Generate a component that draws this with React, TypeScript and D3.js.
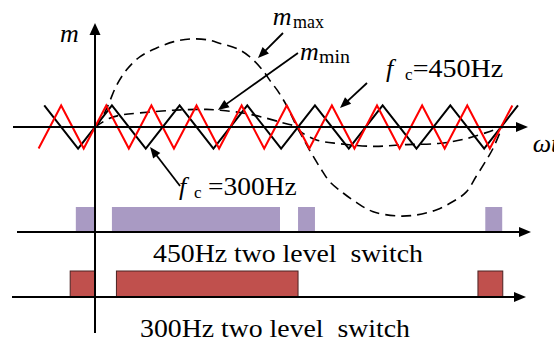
import * as d3 from 'd3';

// carrier vertices, in degrees of ωt
const carrier300Peaks = [-45, 15, 75, 135, 195, 255, 315, 375];
const carrier300Troughs = [-15, 45, 105, 165, 225, 285, 345];
const carrier450Peaks = [-30, 10, 50, 90, 130, 170, 210, 250, 290, 330, 370];
const carrier450Troughs = [-50, -10, 30, 70, 110, 150, 190, 230, 270, 310, 350];
const carrierAmp = 0.245;

// envelopes
const mMaxAngles = [0, 6, 12, 19, 28, 40, 55, 70, 85, 100, 111, 126, 137, 149, 155, 162, 170, 179,
  182, 191, 200, 208, 220, 232, 246, 267, 285, 303, 317, 329, 338, 347, 353, 361];
const mMaxValues = [0, 0.1, 0.26, 0.47, 0.65, 0.8, 0.9, 0.97, 1.0, 0.99, 0.95, 0.89, 0.8, 0.64, 0.53, 0.41, 0.24, 0,
  -0.07, -0.28, -0.47, -0.62, -0.75, -0.86, -0.96, -1.01, -1.0, -0.94, -0.85, -0.74, -0.56, -0.375, -0.24, 0];
const mMinAngles = [0, 13, 25, 40, 69, 99, 111, 131, 152, 167, 179,
  182, 197, 217, 247, 276, 306, 330, 350, 361];
const mMinValues = [0, 0.1, 0.14, 0.16, 0.19, 0.2, 0.19, 0.16, 0.1, 0.045, 0,
  -0.05, -0.15, -0.19, -0.22, -0.2, -0.185, -0.13, -0.05, 0];

// switching intervals [start, end] in degrees
const switch450: [number, number][] = [[-17, 0], [15, 164], [180, 195], [346, 361]];
const switch300: [number, number][] = [[-22, 0], [19, 180], [339.5, 361.5]];

const rows = ['450Hz two level  switch', '300Hz two level  switch'];

const W = 554;
const H = 343;
const serif = "'Times New Roman', 'Liberation Serif', serif";

const x = d3.scaleLinear().domain([0, 360]).range([95, 95 + 360 * 1.128]);
const y = d3.scaleLinear().domain([-1, 1]).range([127 + 88, 127 - 88]);
const rowY = d3.scaleOrdinal<string, number>().domain(rows).range([232, 297]);

const carrier = (peaks: number[], troughs: number[]) =>
  [...peaks.map((d) => [d, carrierAmp] as [number, number]), ...troughs.map((d) => [d, -carrierAmp] as [number, number])]
    .sort((a, b) => a[0] - b[0]);

const lin = d3.line<[number, number]>().x((d) => x(d[0])).y((d) => y(d[1]));
const smooth = d3
  .line<[number, number]>()
  .x((d) => x(d[0]))
  .y((d) => y(d[1]))
  .curve(d3.curveCatmullRom.alpha(0.5));

const zip = (a: number[], b: number[]) => a.map((v, i) => [v, b[i]] as [number, number]);

function head(tx: number, ty: number, angle: number, len: number, half: number) {
  // angle: direction the arrow points, radians
  const bx = tx - len * Math.cos(angle);
  const by = ty - len * Math.sin(angle);
  const px = -Math.sin(angle) * half;
  const py = Math.cos(angle) * half;
  return `M${tx},${ty}L${bx + px},${by + py}L${bx - px},${by - py}Z`;
}

// arrow tips in data coords, tails as pixel offsets
const notes = [
  { deg: 144.5, val: 0.784, dx: 25, dy: -25 },
  { deg: 109, val: 0.193, dx: 80, dy: -57 },
  { deg: 217.2, val: 0.216, dx: 27, dy: -25 },
  { deg: 48.8, val: -0.227, dx: 30, dy: 39 },
];

export default function App() {
  const x0 = x(0);
  const y0 = y(0);
  return (
    <svg width={W} height={H} style={{ position: 'absolute', left: 0, top: 0, background: '#fff' }} fontFamily={serif}>
      {/* switching bars */}
      {switch450.map(([a, b], i) => (
        <rect key={'p' + i} x={x(a)} y={rowY(rows[0]) - 25} width={x(b) - x(a)} height={25} fill="#a99ac3" />
      ))}
      {switch300.map(([a, b], i) => (
        <rect key={'r' + i} x={x(a)} y={rowY(rows[1]) - 26} width={x(b) - x(a)} height={26} fill="#c0504d" stroke="#4a2222" strokeWidth={1} />
      ))}

      {/* row axes */}
      {rows.map((r, i) => {
        const yy = rowY(r);
        const left = i === 0 ? 17 : 12;
        const tip = i === 0 ? 531 : 526;
        return (
          <g key={r}>
            <line x1={left} x2={tip - 8} y1={yy} y2={yy} stroke="#000" strokeWidth={2} />
            <path d={head(tip, yy, 0, 12, 5)} fill="#000" />
          </g>
        );
      })}

      {/* envelopes */}
      <path d={smooth(zip(mMaxAngles, mMaxValues))!} fill="none" stroke="#000" strokeWidth={1.6} strokeDasharray="10 6" />
      <path d={smooth(zip(mMinAngles, mMinValues))!} fill="none" stroke="#000" strokeWidth={1.6} strokeDasharray="10 6" />

      {/* carriers */}
      <path d={lin(carrier(carrier300Peaks, carrier300Troughs))!} fill="none" stroke="#000" strokeWidth={2} />
      <path d={lin(carrier(carrier450Peaks, carrier450Troughs))!} fill="none" stroke="#ff0000" strokeWidth={2} />

      {/* main axes */}
      <line x1={13} x2={518} y1={y0} y2={y0} stroke="#000" strokeWidth={2} />
      <path d={head(528, y0, 0, 12, 5)} fill="#000" />
      <line x1={x0} x2={x0} y1={333} y2={32} stroke="#000" strokeWidth={2} />
      <path d={head(x0, 23, -Math.PI / 2, 12, 5.5)} fill="#000" />

      {/* annotation arrows */}
      {notes.map((n, i) => {
        const tx = x(n.deg);
        const ty = y(n.val);
        const ang = Math.atan2(-n.dy, -n.dx);
        return (
          <g key={i}>
            <line x1={tx + n.dx} y1={ty + n.dy} x2={tx - 8 * Math.cos(ang)} y2={ty - 8 * Math.sin(ang)} stroke="#000" strokeWidth={1.8} />
            <path d={head(tx, ty, ang, 11, 4.5)} fill="#000" />
          </g>
        );
      })}

      {/* labels */}
      <text x={60} y={42} fontSize={26} fontStyle="italic">m</text>
      <text x={272.7} y={25} fontSize={26} fontStyle="italic">m</text>
      <text x={293} y={28} fontSize={18} textLength={31} lengthAdjust="spacingAndGlyphs">max</text>
      <text x={300} y={60} fontSize={26} fontStyle="italic">m</text>
      <text x={319} y={63} fontSize={18} textLength={31} lengthAdjust="spacingAndGlyphs">min</text>

      <text x={386} y={77} fontSize={26} fontStyle="italic">f</text>
      <text x={405} y={80} fontSize={17}>c</text>
      <text x={412.7} y={77} fontSize={25} textLength={90.6} lengthAdjust="spacingAndGlyphs">=450Hz</text>

      <text x={179} y={195} fontSize={26} fontStyle="italic">f</text>
      <text x={194} y={198} fontSize={17}>c</text>
      <text x={208} y={195} fontSize={25} textLength={88.7} lengthAdjust="spacingAndGlyphs">=300Hz</text>

      <text x={532.7} y={151.7} fontSize={26} fontStyle="italic">ωt</text>

      <text x={153} y={261.7} fontSize={25} textLength={270} lengthAdjust="spacingAndGlyphs" style={{ whiteSpace: 'pre' }}>{rows[0]}</text>
      <text x={140} y={336.7} fontSize={25} textLength={270} lengthAdjust="spacingAndGlyphs" style={{ whiteSpace: 'pre' }}>{rows[1]}</text>
    </svg>
  );
}
